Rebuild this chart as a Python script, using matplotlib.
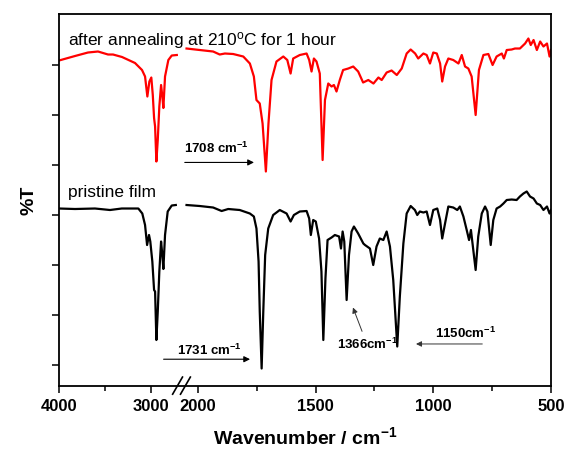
import numpy as np
import matplotlib
matplotlib.use("Agg")
import matplotlib.pyplot as plt

# %% Data

# annealed film, C-H stretch region
red_hi_wn = [4000, 3826, 3685, 3576, 3467, 3413, 3315, 3174, 3098, 3065,
             3040, 3018, 2997, 2981, 2967, 2956, 2942, 2927, 2910, 2891,
             2877, 2866, 2848, 2812, 2775, 2720]
red_hi_t = [60.9, 61.8, 62.5, 62.7, 62.1, 62.1, 61.6, 60.4, 59.0, 57.7,
            53.7, 56.7, 57.5, 54.0, 49.4, 47.7, 40.7, 45.0, 51.7, 56.0,
            53.7, 51.4, 57.7, 61.0, 61.9, 62.0]

# annealed film, fingerprint region
red_lo_wn = [2048, 1992, 1935, 1907, 1885, 1850, 1807, 1779, 1762, 1751,
             1737, 1725, 1711, 1700, 1687, 1666, 1637, 1620, 1606, 1595,
             1567, 1538, 1527, 1517, 1507, 1496, 1482, 1470, 1460, 1446,
             1432, 1422, 1411, 1397, 1383, 1361, 1340, 1319, 1298, 1276,
             1254, 1233, 1219, 1198, 1177, 1155, 1134, 1113, 1096, 1077,
             1064, 1042, 1028, 1014, 1000, 985, 971, 962, 950, 936,
             915, 893, 879, 865, 851, 837, 820, 806, 787, 766,
             748, 731, 709, 700, 688, 667, 653, 632, 610, 596,
             586, 574, 560, 546, 532, 517, 506, 500]
red_lo_t = [63.3, 63.0, 62.7, 62.1, 62.3, 62.2, 61.7, 60.3, 57.7, 53.0,
            52.3, 48.3, 38.7, 48.3, 57.0, 60.7, 61.7, 61.0, 58.3, 61.3,
            62.0, 62.3, 61.0, 58.7, 61.3, 60.7, 58.3, 41.0, 53.0, 56.3,
            55.7, 56.0, 54.7, 57.0, 59.0, 59.3, 59.7, 58.7, 56.5, 57.0,
            56.3, 57.5, 57.0, 58.5, 58.9, 58.0, 59.3, 62.3, 63.1, 62.3,
            61.3, 62.3, 62.0, 60.3, 62.5, 62.3, 60.3, 56.7, 59.7, 61.3,
            61.0, 60.3, 62.0, 59.7, 59.3, 57.7, 50.0, 59.0, 62.0, 62.2,
            60.0, 61.7, 62.3, 61.3, 63.0, 63.1, 63.3, 63.3, 64.3, 65.3,
            64.0, 65.0, 63.0, 64.7, 63.7, 64.3, 61.7, 63.0]

# pristine film, C-H stretch region
blk_hi_wn = [4000, 3826, 3609, 3446, 3318, 3138, 3095, 3065, 3043, 3022,
             3008, 2986, 2967, 2956, 2942, 2927, 2910, 2891, 2877, 2866,
             2848, 2819, 2775, 2731]
blk_hi_t = [31.3, 31.2, 31.3, 31.0, 31.3, 31.3, 30.3, 28.0, 24.0, 26.0,
            24.7, 20.7, 15.0, 14.7, 5.0, 10.7, 18.7, 24.7, 22.0, 19.2,
            26.0, 30.7, 31.9, 32.0]

# pristine film, fingerprint region
blk_lo_wn = [2048, 1992, 1935, 1899, 1871, 1822, 1779, 1762, 1751, 1742,
             1737, 1729, 1722, 1714, 1701, 1680, 1652, 1623, 1606, 1592,
             1567, 1538, 1527, 1520, 1510, 1499, 1485, 1475, 1467, 1458,
             1449, 1432, 1418, 1400, 1392, 1385, 1378, 1368, 1358, 1347,
             1337, 1319, 1297, 1290, 1269, 1255, 1241, 1227, 1212, 1198,
             1184, 1170, 1153, 1142, 1127, 1113, 1096, 1078, 1068, 1057,
             1042, 1028, 1014, 1000, 983, 971, 962, 950, 936, 915,
             898, 887, 872, 858, 848, 840, 830, 820, 809, 794,
             780, 770, 756, 745, 731, 716, 702, 688, 667, 646,
             632, 617, 603, 589, 574, 560, 546, 532, 517, 506, 500]
blk_lo_t = [32.0, 31.8, 31.5, 30.8, 31.2, 31.0, 30.3, 29.7, 27.3, 20.7,
            10.7, -0.7, 10.7, 22.0, 27.3, 30.0, 31.0, 30.3, 28.7, 30.0,
            30.7, 30.8, 29.3, 26.0, 29.0, 28.7, 25.3, 18.7, 5.0, 17.3,
            25.0, 25.5, 26.0, 25.7, 23.3, 26.7, 24.7, 13.0, 22.0, 26.7,
            27.7, 26.3, 24.3, 24.0, 23.3, 20.0, 23.7, 25.3, 25.0, 26.7,
            23.7, 17.0, 3.7, 13.7, 24.3, 30.3, 31.8, 31.0, 30.0, 30.7,
            30.5, 30.7, 28.0, 31.0, 31.3, 29.0, 25.3, 28.3, 31.7, 31.5,
            31.0, 31.7, 29.7, 27.0, 25.0, 27.0, 23.0, 19.0, 25.7, 30.3,
            31.7, 30.7, 24.0, 29.0, 31.3, 31.7, 32.3, 33.0, 33.1, 33.0,
            33.7, 34.3, 34.7, 33.7, 33.3, 32.3, 32.0, 31.0, 31.7, 30.3, 31.0]

major_ticks = [4000, 3000, 2000, 1500, 1000, 500]
minor_ticks = [3500, 1750, 1250, 750]

# %% Broken wavenumber axis (4000-2700 compressed, gap, 2050-500)

A = 0.092    # scale of high-wavenumber part
B = 0.2353   # scale of fingerprint part
U1 = (4000 - 2700) * A
U2 = U1 + 7.4


def fwd(w):
    w = np.asarray(w, dtype=float)
    return np.where(w >= 2700, (4000 - w) * A,
                    np.where(w >= 2050, U1 + (2700 - w) * (U2 - U1) / 650,
                             U2 + (2050 - w) * B))


def inv(u):
    u = np.asarray(u, dtype=float)
    return np.where(u <= U1, 4000 - u / A,
                    np.where(u <= U2, 2700 - (u - U1) * 650 / (U2 - U1),
                             2050 - (u - U2) / B))


plt.rcParams['font.family'] = ['Liberation Sans', 'DejaVu Sans']
plt.rcParams['mathtext.default'] = 'regular'

fig = plt.figure(figsize=(5.65, 4.49), dpi=100)
ax = fig.add_axes([0.1044, 0.1403, 0.8708, 0.8285])
ax.set_xscale('function', functions=(fwd, inv))

ax.plot(red_hi_wn, red_hi_t, color='#ff0000', lw=1.6)
ax.plot(red_lo_wn, red_lo_t, color='#ff0000', lw=1.6)
ax.plot(blk_hi_wn, blk_hi_t, color='black', lw=1.6)
ax.plot(blk_lo_wn, blk_lo_t, color='black', lw=1.6)

# fwd is decreasing, so 4000 ends up on the left this way
ax.set_xlim(500, 4000)
ax.set_ylim(-4.2, 70.2)

ax.set_xticks(major_ticks)
ax.set_xticklabels([str(t) for t in major_ticks], fontweight='bold', fontsize=12)
ax.set_xticks(minor_ticks, minor=True)
ax.set_yticks(np.arange(0, 61, 10))
ax.set_yticklabels([])
ax.tick_params(axis='x', which='major', direction='out', length=5, width=1.1, pad=4)
ax.tick_params(axis='x', which='minor', direction='out', length=3.5, width=1.1)
ax.tick_params(axis='y', direction='out', length=5, width=1.1)
for s in ax.spines.values():
    s.set_linewidth(1.3)

ax.set_xlabel(r'Wavenumber / cm$^{-1}$', fontsize=14, fontweight='bold', labelpad=9)
ax.set_ylabel('%T', fontsize=14, fontweight='bold', labelpad=7)

# break marks on the x axis
for x0 in (0.231, 0.247):
    ax.plot([x0, x0 + 0.02], [-0.022, 0.024], color='black', lw=1.2,
            transform=ax.transAxes, clip_on=False)

# %% Labels and arrows

ax.text(0.018, 0.917, r'after annealing at 210$^{o}$C for 1 hour', fontsize=12.5,
        transform=ax.transAxes, va='baseline')
ax.text(0.018, 0.508, 'pristine film', fontsize=12.5,
        transform=ax.transAxes, va='baseline')

arrow = dict(arrowstyle='-|>', color='black', lw=0.8, mutation_scale=9)
ax.text(0.254, 0.627, r'1708 cm$^{-1}$', fontsize=9.5, fontweight='bold',
        transform=ax.transAxes, va='baseline')
ax.annotate('', xy=(0.402, 0.601), xytext=(0.25, 0.601),
            xycoords='axes fraction', arrowprops=arrow)

ax.text(0.240, 0.083, r'1731 cm$^{-1}$', fontsize=9.5, fontweight='bold',
        transform=ax.transAxes, va='baseline')
ax.annotate('', xy=(0.394, 0.072), xytext=(0.207, 0.072),
            xycoords='axes fraction', arrowprops=arrow)

ax.text(0.565, 0.0995, r'1366cm$^{-1}$', fontsize=9.5, fontweight='bold',
        transform=ax.transAxes, va='baseline')
ax.annotate('', xy=(0.5955, 0.218), xytext=(0.618, 0.140),
            xycoords='axes fraction',
            arrowprops=dict(arrowstyle='-|>', color='#333333', lw=0.7, mutation_scale=8))

ax.text(0.764, 0.128, r'1150cm$^{-1}$', fontsize=9.5, fontweight='bold',
        transform=ax.transAxes, va='baseline')
ax.annotate('', xy=(0.720, 0.113), xytext=(0.866, 0.113),
            xycoords='axes fraction',
            arrowprops=dict(arrowstyle='-|>', color='#333333', lw=0.7, mutation_scale=8))

fig.savefig('out.png', dpi=100)
